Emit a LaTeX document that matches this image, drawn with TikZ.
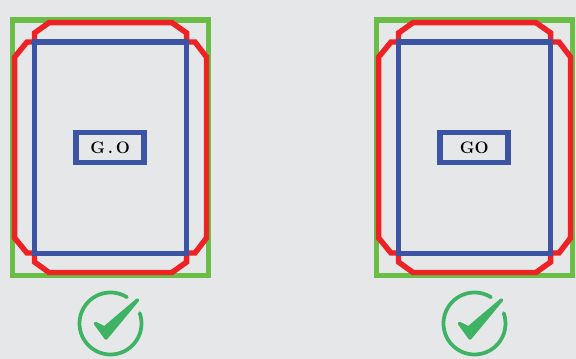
\documentclass[tikz,border=0pt]{standalone}
\definecolor{panelgray}{HTML}{E6E7E9}
\definecolor{framegreen}{HTML}{6ABD45}
\definecolor{framered}{HTML}{EE2224}
\definecolor{frameblue}{HTML}{3B54A4}
\definecolor{tickgreen}{HTML}{3EB364}
\tikzset{
    frameline/.style={line width=4.1pt, line join=miter},
    labelbox/.style={draw=frameblue, line width=4.1pt, minimum width=51pt, minimum height=22.5pt, inner sep=0pt, font=\bfseries\fontsize{12.5}{13}\selectfont, text=black},
    tickring/.style={draw=tickgreen, line width=2.8pt, line cap=round},
    tickmark/.style={fill=tickgreen, draw=tickgreen, line width=2.6pt, line join=round}
}
\begin{document}
\begin{tikzpicture}[x=0.75pt,y=-0.75pt]
    \fill [panelgray] (0,0) rectangle (576,359);
    \useasboundingbox (0,0) rectangle (576,359);
    \foreach \dx/\lab/\nm in {0/{G\,.\,O}/left,364/{GO}/right} {
        \begin{scope}[shift={(\dx,0)}]
            \draw [frameline, framegreen] (12.5,20) rectangle (208.5,275.5);
            \draw [frameline, framered] (49,22.7) -- (172,22.7) -- (186.7,33) -- (186.7,42) -- (195,42) -- (206.5,57) -- (206.5,238) -- (195,253) -- (186.7,253) -- (186.7,262) -- (172,272.5) -- (49,272.5) -- (34.5,262) -- (34.5,253) -- (27,253) -- (14.7,238) -- (14.7,57) -- (27,42) -- (34.5,42) -- (34.5,33) -- cycle;
            \draw [frameline, frameblue] (34.5,42) rectangle (186.7,253.3);
            \node [labelbox] (label\nm) at (110.2,147.5) {\lab};
            \coordinate (ring\nm) at (110.5,323.5);
            \draw [tickring] (ring\nm) ++(-58:31) arc [start angle=-58, end angle=-379.5, radius=31];
            \filldraw [tickmark] (95.5,323.5) -- (104.5,328) -- (137.5,300) -- (106,338) -- cycle;
        \end{scope}
    }
\end{tikzpicture}
\end{document}
